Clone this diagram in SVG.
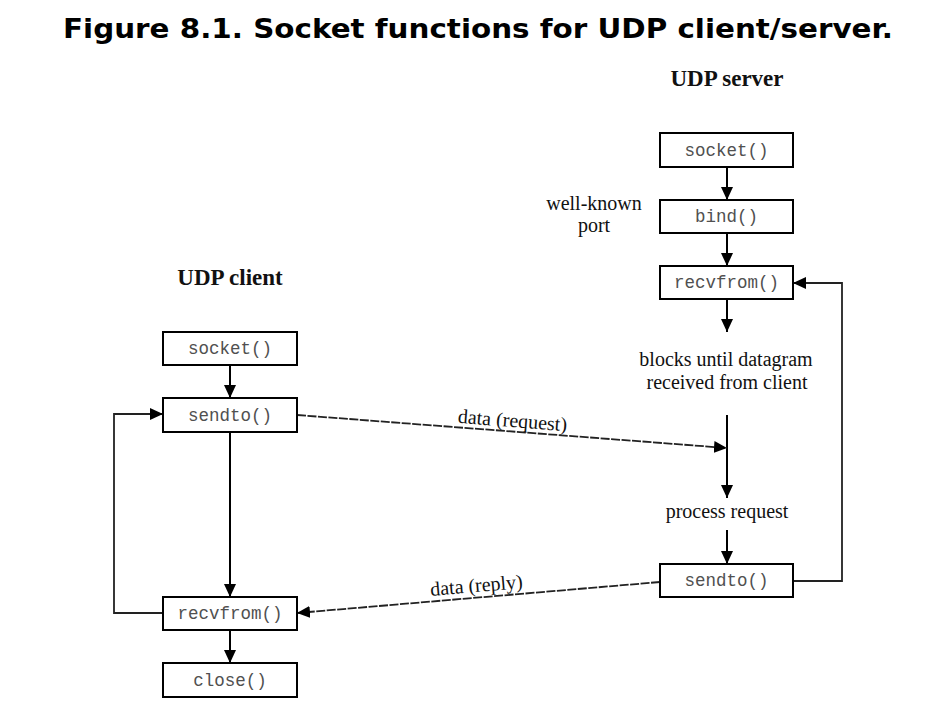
<svg xmlns="http://www.w3.org/2000/svg" width="925" height="706" viewBox="0 0 925 706">
  <style>
    .box { fill: #ffffff; stroke: #000000; stroke-width: 2; }
    .code { font-family: "Liberation Mono", "Courier New", monospace; font-size: 17.5px; fill: #505050; text-anchor: middle; }
    .lbl { font-family: "Liberation Serif", "Times New Roman", serif; font-size: 20px; fill: #111111; text-anchor: middle; }
    .head { font-family: "Liberation Serif", "Times New Roman", serif; font-size: 23px; font-weight: bold; fill: #111111; text-anchor: middle; }
    .title { font-family: "DejaVu Sans", Verdana, sans-serif; font-size: 26px; font-weight: bold; fill: #000000; text-anchor: middle; }
    .arr { fill: none; stroke: #000000; stroke-width: 2; }
    .loop { fill: none; stroke: #222222; stroke-width: 1.8; }
    .data { fill: none; stroke: #222222; stroke-width: 1.8; stroke-dasharray: 9 1.5; }
  </style>
  <defs>
    <marker id="ah" markerUnits="userSpaceOnUse" markerWidth="14" markerHeight="12" refX="13" refY="6" orient="auto">
      <path d="M0,0 L13,6 L0,12 z" fill="#000000"/>
    </marker>
  </defs>
  <rect width="925" height="706" fill="#ffffff"/>

  <text class="title" x="478" y="38" textLength="830" lengthAdjust="spacingAndGlyphs">Figure 8.1. Socket functions for UDP client/server.</text>

  <text class="head" x="727" y="86">UDP server</text>
  <text class="head" x="230" y="285">UDP client</text>

  <g id="connectors">
    <!-- server chain -->
    <line class="arr" x1="727" y1="167" x2="727" y2="200" marker-end="url(#ah)"/>
    <line class="arr" x1="727" y1="233" x2="727" y2="266" marker-end="url(#ah)"/>
    <line class="arr" x1="727" y1="299" x2="727" y2="332" marker-end="url(#ah)"/>
    <line class="arr" x1="727" y1="415" x2="727" y2="498" marker-end="url(#ah)"/>
    <line class="arr" x1="727" y1="530" x2="727" y2="564" marker-end="url(#ah)"/>
    <polyline class="loop" points="793,581 842,581 842,283 793,283" marker-end="url(#ah)"/>
    <!-- client chain -->
    <line class="arr" x1="230" y1="365" x2="230" y2="398" marker-end="url(#ah)"/>
    <line class="arr" x1="230" y1="432" x2="230" y2="597" marker-end="url(#ah)"/>
    <line class="arr" x1="230" y1="630" x2="230" y2="663" marker-end="url(#ah)"/>
    <polyline class="loop" points="163,613 114,613 114,414 163,414" marker-end="url(#ah)"/>
    <!-- data -->
    <line class="data" x1="297" y1="415" x2="727" y2="448" marker-end="url(#ah)"/>
    <line class="data" x1="660" y1="582" x2="297" y2="613" marker-end="url(#ah)"/>
    <text class="lbl" x="512" y="427" transform="rotate(4.4 512 427)">data (request)</text>
    <text class="lbl" x="477" y="592" transform="rotate(-4.9 477 592)">data (reply)</text>
  </g>

  <g id="server-socket">
    <rect class="box" x="660" y="133" width="133" height="34"/>
    <text class="code" x="726.5" y="156">socket()</text>
  </g>
  <g id="server-bind">
    <rect class="box" x="660" y="200" width="133" height="33"/>
    <text class="code" x="726.5" y="222">bind()</text>
  </g>
  <text class="lbl" x="594" y="210">well-known</text>
  <text class="lbl" x="594" y="232">port</text>
  <g id="server-recvfrom">
    <rect class="box" x="660" y="266" width="133" height="33"/>
    <text class="code" x="726.5" y="288">recvfrom()</text>
  </g>
  <text class="lbl" x="726" y="366">blocks until datagram</text>
  <text class="lbl" x="727" y="389">received from client</text>
  <text class="lbl" x="727" y="518">process request</text>
  <g id="server-sendto">
    <rect class="box" x="660" y="564" width="133" height="33"/>
    <text class="code" x="726.5" y="586">sendto()</text>
  </g>

  <g id="client-socket">
    <rect class="box" x="163" y="332" width="134" height="33"/>
    <text class="code" x="230" y="354">socket()</text>
  </g>
  <g id="client-sendto">
    <rect class="box" x="163" y="398" width="134" height="34"/>
    <text class="code" x="230" y="421">sendto()</text>
  </g>
  <g id="client-recvfrom">
    <rect class="box" x="163" y="597" width="134" height="33"/>
    <text class="code" x="230" y="619">recvfrom()</text>
  </g>
  <g id="client-close">
    <rect class="box" x="163" y="663" width="134" height="34"/>
    <text class="code" x="230" y="686">close()</text>
  </g>
</svg>
